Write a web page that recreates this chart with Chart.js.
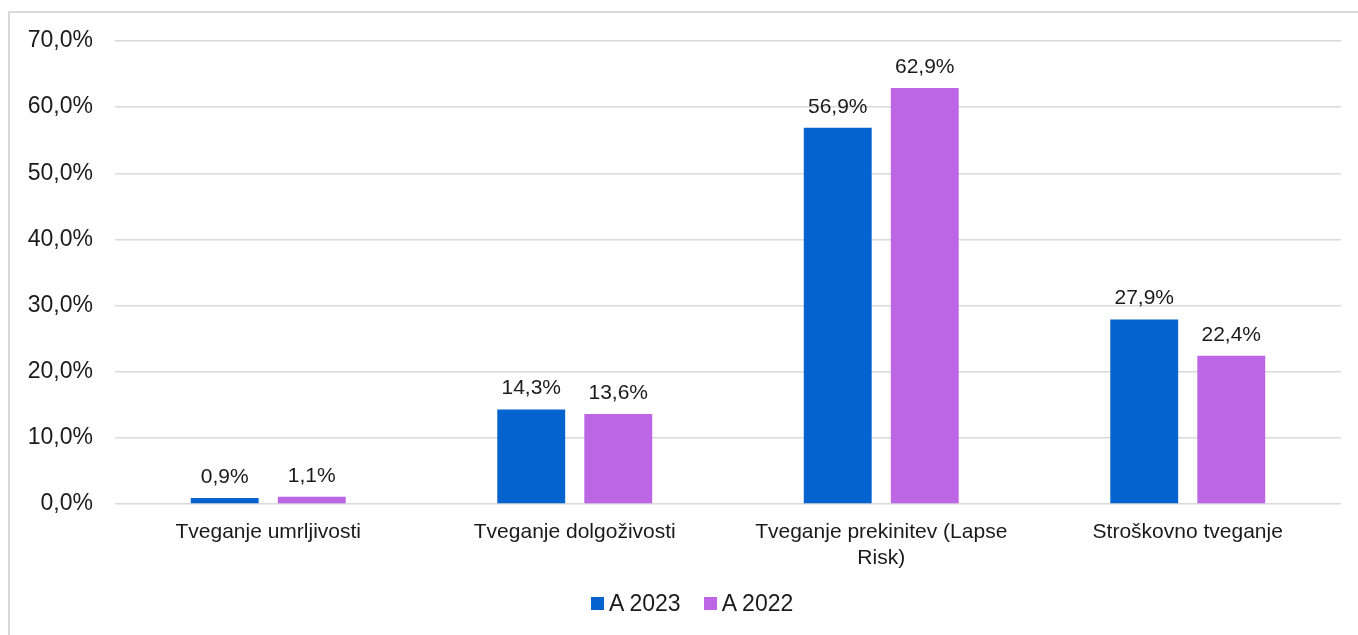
<html lang="sl">
<head>
  <meta charset="UTF-8">
  <title>Tveganja</title>
  <style>
    body { margin: 0; background: #fff; overflow: hidden; }
    #frame {
      position: absolute; left: 8px; top: 11px;
      width: 1400px; height: 700px;
      border: 2px solid #d9d9d9;
    }
    #wrap { position: absolute; left: 0; top: 0; width: 1358px; height: 635px; }
    #legend {
      position: absolute; left: 591px; top: 590px;
      font: 23px 'Liberation Sans', Arial, sans-serif; color: #1a1a1a;
      display: flex; align-items: center; white-space: nowrap;
    }
    #legend .box { display: inline-block; width: 13px; height: 13px; margin-right: 5px; }
    #legend .item { display: flex; align-items: center; margin-right: 23px; }
  </style>
  <script src="https://cdn.jsdelivr.net/npm/chart.js@4/dist/chart.umd.min.js"></script>
</head>
<body>
  <div id="frame"></div>
  <div id="wrap"><canvas id="chart" width="1358" height="635"></canvas></div>
  <div id="legend"></div>
  <script>
    const categories = ["Tveganje umrljivosti", "Tveganje dolgoživosti", ["Tveganje prekinitev (Lapse", "Risk)"], "Stroškovno tveganje"]
    const a2023 = [0.9, 14.3, 56.9, 27.9]
    const a2022 = [1.1, 13.6, 62.9, 22.4]
    const yTicks = [0, 10, 20, 30, 40, 50, 60, 70]

    const fmt = v => v.toFixed(1).replace(".", ",") + "%"
    const font = "'Liberation Sans', Arial, sans-serif"

    const valueLabels = {
      id: "valueLabels",
      afterDatasetsDraw(chart) {
        const ctx = chart.ctx
        ctx.save()
        ctx.font = "21px " + font
        ctx.fillStyle = "#1a1a1a"
        ctx.textAlign = "center"
        ctx.textBaseline = "alphabetic"
        chart.data.datasets.forEach((ds, i) => {
          chart.getDatasetMeta(i).data.forEach((bar, j) => {
            ctx.fillText(fmt(ds.data[j]), bar.x, bar.y - 15)
          })
        })
        ctx.restore()
      }
    }

    const chart = new Chart(document.getElementById("chart"), {
      type: "bar",
      data: {
        labels: categories,
        datasets: [
          { label: "A 2023", data: a2023, backgroundColor: "#0563CF" },
          { label: "A 2022", data: a2022, backgroundColor: "#BC66E6" }
        ]
      },
      options: {
        responsive: false,
        animation: false,
        categoryPercentage: 0.568,
        barPercentage: 0.78,
        layout: { padding: { left: 0, right: 17, top: 41, bottom: 56 } },
        plugins: {
          legend: { display: false },
          tooltip: { enabled: false }
        },
        scales: {
          x: {
            grid: { display: false },
            border: { display: false },
            ticks: {
              font: { family: font, size: 21, lineHeight: 1.24 },
              color: "#1a1a1a",
              padding: 7,
              maxRotation: 0,
              autoSkip: false
            },
            afterFit: s => { s.height = 75 }
          },
          y: {
            min: 0,
            max: 70,
            afterBuildTicks: s => { s.ticks = yTicks.map(v => ({ value: v })) },
            grid: { color: "#d9d9d9", lineWidth: 1.5, drawTicks: false },
            border: { display: false },
            ticks: {
              font: { family: font, size: 23 },
              color: "#1a1a1a",
              padding: 22,
              callback: v => fmt(v)
            },
            afterFit: s => { s.width = 115 }
          }
        }
      },
      plugins: [valueLabels]
    })

    // legend from the chart's own datasets
    const legend = document.getElementById("legend")
    chart.data.datasets.forEach(ds => {
      const item = document.createElement("span")
      item.className = "item"
      const box = document.createElement("span")
      box.className = "box"
      box.style.background = ds.backgroundColor
      item.appendChild(box)
      item.appendChild(document.createTextNode(ds.label))
      legend.appendChild(item)
    })
  </script>
</body>
</html>
